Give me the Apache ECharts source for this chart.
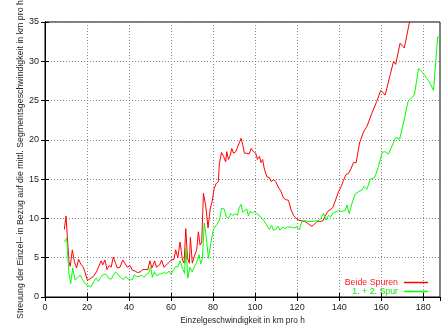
<!DOCTYPE html>
<html><head><meta charset="utf-8">
<script src="https://cdn.jsdelivr.net/npm/echarts@6/dist/echarts.min.js"></script>
<style>html,body{margin:0;padding:0;background:#fff}#c{width:441px;height:326px}</style>
</head><body><div id="c"></div>
<script>
const seriesNames = ["Beide Spuren", "1. + 2. Spur"];
const xTicks = [0, 20, 40, 60, 80, 100, 120, 140, 160, 180];
const yTicks = [0, 5, 10, 15, 20, 25, 30, 35];
const redX = [9.2,10.0,11.4,12.0,13.0,14.0,15.0,16.0,17.0,18.0,19.0,20.2,21.0,23.0,24.5,26.7,27.5,28.5,29.5,30.5,31.5,32.5,33.6,34.4,35.7,37.0,38.0,39.2,40.5,41.6,42.9,44.0,45.4,46.5,47.8,49.0,49.9,50.9,52.2,53.0,54.6,55.5,56.6,57.9,59.0,60.0,61.4,62.2,63.2,64.3,65.4,66.2,67.0,67.8,68.7,69.2,70.1,71.1,72.2,73.0,73.8,74.6,75.4,76.5,77.6,78.6,79.6,80.5,81.4,82.5,83.0,84.0,85.0,86.0,86.5,87.3,88.0,88.9,89.7,90.8,91.6,93.3,94.1,94.9,96.0,97.2,98.1,99.2,100.3,101.1,102.1,102.8,103.6,104.4,105.6,106.7,107.6,108.7,109.8,111.0,112.4,113.5,114.6,115.9,117.1,118.3,119.5,120.6,122.3,123.8,125.4,127.0,128.3,129.5,130.7,132.3,133.3,134.6,135.7,137.0,138.1,139.7,140.9,142.0,143.3,144.4,145.6,146.8,148.1,149.7,151.6,153.2,155.6,157.9,159.8,161.9,164.3,165.9,166.9,169.0,171.0,173.5,174.5];
const redY = [8.6,10.3,4.5,3.9,6.0,4.5,3.7,4.8,4.2,3.9,3.2,2.1,2.0,2.6,3.2,4.6,4.1,4.7,3.5,4.0,3.8,5.1,4.3,3.7,3.8,4.7,4.3,3.8,4.0,3.4,3.3,3.1,3.2,3.5,3.5,3.5,4.6,3.7,4.6,3.8,4.1,4.7,3.8,4.1,4.4,4.7,4.8,6.0,5.0,7.0,4.7,4.3,8.7,5.0,4.3,7.6,4.3,5.2,6.0,8.3,6.6,7.0,13.2,11.6,8.8,11.2,12.2,13.8,14.4,14.7,17.0,18.4,17.9,17.2,18.5,17.5,17.9,18.9,18.3,18.5,18.3,20.2,19.4,18.3,18.3,18.2,18.9,18.5,18.3,17.5,17.9,17.1,17.5,16.3,15.3,15.2,14.7,14.9,14.7,14.0,13.4,12.6,12.4,12.3,11.1,10.4,10.0,9.8,9.7,9.6,9.3,9.0,9.3,9.6,9.6,9.7,10.3,10.9,11.1,11.4,12.2,13.4,14.0,14.8,15.6,15.7,16.3,17.1,17.1,19.6,21.0,21.7,23.4,24.9,26.3,25.7,28.3,30.0,29.6,32.3,31.7,35.0,36.5];
const greenX = [9.2,10.3,11.4,12.2,13.2,14.3,15.4,16.7,17.9,19.0,20.2,21.0,21.9,23.0,24.3,25.4,26.5,27.8,28.9,29.8,30.6,31.7,32.5,33.6,34.8,36.0,37.3,38.4,39.4,40.5,41.6,42.5,43.7,44.7,46.0,47.1,48.4,49.5,50.3,51.1,52.1,53.2,54.3,55.6,56.8,58.0,59.0,60.0,61.1,62.2,63.2,64.3,65.4,66.4,67.1,68.0,69.0,70.1,71.1,72.2,73.3,74.1,74.9,75.8,76.7,77.8,79.0,80.2,81.8,83.0,84.1,85.3,86.3,87.3,88.4,89.4,90.5,91.6,92.5,93.3,94.1,94.9,96.0,96.8,97.6,98.7,99.7,100.8,101.9,102.8,103.9,105.0,106.0,106.8,107.9,108.7,109.8,110.8,111.9,113.1,114.2,115.4,116.7,118.3,119.9,121.1,122.2,123.8,125.4,127.0,128.6,130.2,131.3,132.5,133.7,134.9,136.0,137.3,138.4,139.7,141.3,142.9,143.7,144.8,146.1,147.6,149.2,150.8,151.9,153.2,154.8,156.9,158.7,160.4,161.9,163.5,166.9,168.8,170.8,172.8,175.8,177.8,179.6,181.5,183.3,184.9,186.9,188.5];
const greenY = [7.0,7.5,3.0,1.7,3.65,2.2,2.4,2.8,2.2,1.7,1.5,1.7,1.3,1.9,2.4,2.0,2.5,2.9,2.9,2.8,2.3,2.3,2.8,3.2,2.8,2.5,2.2,2.6,2.3,2.2,2.2,2.8,2.6,2.6,2.8,2.5,2.9,3.1,3.85,2.5,3.2,2.7,2.9,3.0,3.1,3.0,3.3,2.9,3.4,3.9,3.8,4.6,3.7,3.0,6.2,2.4,3.8,3.2,3.9,4.4,5.4,4.2,4.9,9.4,7.7,4.9,7.0,8.7,9.2,9.8,11.3,11.2,10.2,10.0,10.6,10.4,10.6,10.4,11.4,11.8,10.8,10.6,11.2,10.3,10.9,10.7,10.9,10.6,10.4,10.3,9.8,9.4,8.9,8.6,9.1,8.5,8.6,9.0,8.5,8.9,8.7,8.9,8.9,8.8,8.9,8.6,9.6,9.7,9.6,9.6,9.7,9.7,10.0,10.65,9.8,10.4,10.2,10.8,10.8,11.0,10.9,11.0,11.7,10.6,11.9,13.1,13.4,13.6,14.1,13.7,15.0,15.2,16.6,18.4,18.5,18.2,20.3,20.1,22.4,24.9,25.7,29.1,28.6,27.9,27.2,26.3,33.1,33.0];

const font = '"Liberation Sans", Arial, sans-serif';
const pair = (xs, ys) => xs.map((x, i) => [x, ys[i]]);
const xMin = xTicks[0], yMin = yTicks[0], yMax = yTicks[yTicks.length - 1];
const chart = echarts.init(document.getElementById('c'), null, {renderer: 'canvas'});
const axCommon = {
  axisLine: {show: true, lineStyle: {color: '#000', width: 1}},
  axisTick: {show: true, inside: true, length: 4, lineStyle: {color: '#000'}},
};
chart.setOption({
  animation: false,
  backgroundColor: '#fff',
  grid: {left: 45, right: 1, top: 22, bottom: 29, show: true, borderColor: '#000', borderWidth: 1,
         containLabel: false, outerBoundsMode: 'none'},
  legend: {
    orient: 'vertical', right: 8, top: 273, align: 'right', itemGap: 0,
    itemWidth: 24, itemHeight: 1.5, icon: 'rect',
    textStyle: {fontFamily: font, fontSize: 8.8, padding: [0, 1, 0, 0], lineHeight: 9},
    data: [
      {name: seriesNames[0], textStyle: {color: '#ff1a1a'}},
      {name: seriesNames[1], textStyle: {color: '#11e011'}}
    ]
  },
  xAxis: [{
    type: 'value', min: xMin, max: 188, interval: 20, position: 'bottom',
    name: 'Einzelgeschwindigkeit in km pro h', nameLocation: 'middle', nameGap: 20,
    nameTextStyle: {fontFamily: font, fontSize: 8.3, color: '#222'},
    ...axCommon,
    axisLabel: {fontFamily: font, fontSize: 9, color: '#222', margin: 6, showMaxLabel: false},
    splitLine: {show: true, lineStyle: {color: '#888', type: [1, 2], width: 1}}
  }, {
    type: 'value', min: xMin, max: 188, interval: 20, position: 'top',
    ...axCommon, axisLabel: {show: false}, splitLine: {show: false}
  }],
  yAxis: [{
    type: 'value', min: yMin, max: yMax, interval: 5, position: 'left',
    name: 'Streuung der Einzel– in Bezug auf die mittl. Segmentsgeschwindigkeit in km pro h',
    nameLocation: 'middle', nameGap: 20, nameMoveOverlap: false,
    nameTextStyle: {fontFamily: font, fontSize: 8.8, color: '#222'},
    ...axCommon,
    axisLabel: {fontFamily: font, fontSize: 9, color: '#222', margin: 6},
    splitLine: {show: true, lineStyle: {color: '#888', type: [1, 2], width: 1}}
  }, {
    type: 'value', min: yMin, max: yMax, interval: 5, position: 'right',
    ...axCommon, axisLabel: {show: false}, splitLine: {show: false}
  }],
  series: [
    {name: seriesNames[0], type: 'line', data: pair(redX, redY), showSymbol: false, symbol: 'none',
     clip: true, lineStyle: {color: '#ff0000', width: 1}, itemStyle: {color: '#ff0000'}},
    {name: seriesNames[1], type: 'line', data: pair(greenX, greenY), showSymbol: false, symbol: 'none',
     clip: true, lineStyle: {color: '#00ff00', width: 1}, itemStyle: {color: '#00ff00'}}
  ]
});
</script></body></html>
